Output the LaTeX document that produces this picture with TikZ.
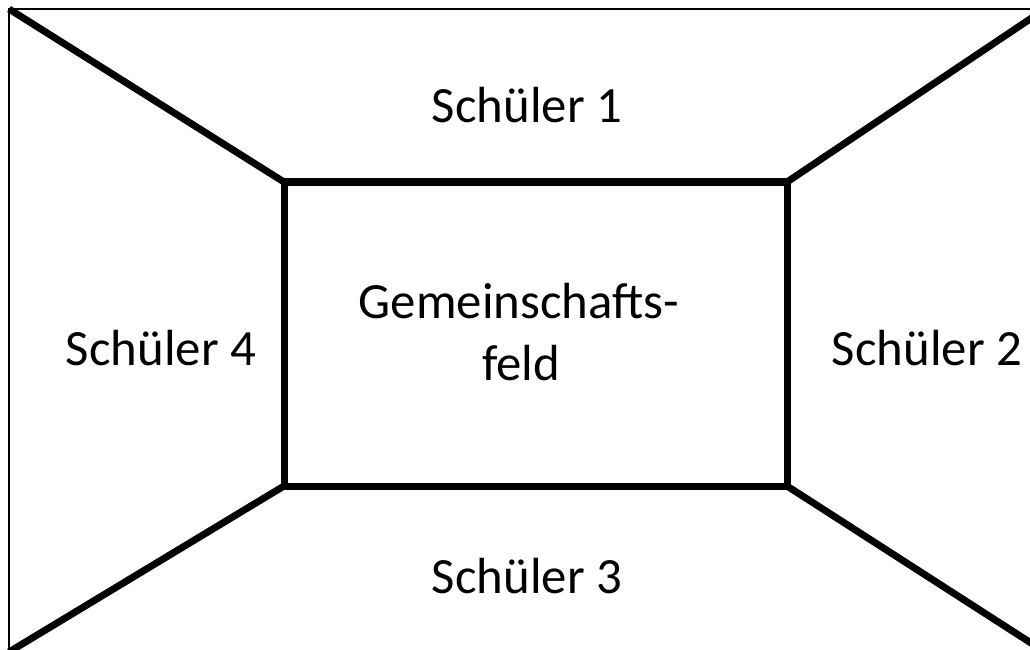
\documentclass[tikz,border=0pt]{standalone}
\usepackage{fontspec}
\setmainfont{Carlito}
\begin{document}
\begin{tikzpicture}[x=1bp,y=-1bp,
  thinline/.style={line width=2bp},
  thickline/.style={line width=7bp, line cap=butt},
  label/.style={font=\fontsize{51}{60}\selectfont, inner sep=0pt, anchor=base}]
\useasboundingbox (0,0) rectangle (1030,650);
\clip (0,0) rectangle (1030,650);
\fill[white] (0,0) rectangle (1030,650);
% corners
\coordinate (o1) at (9,9);
\coordinate (o2) at (1045,9);
\coordinate (o3) at (1045,652);
\coordinate (o4) at (9,652);
\coordinate (i1) at (284,182);
\coordinate (i2) at (787,182);
\coordinate (i3) at (787,486);
\coordinate (i4) at (284,486);
% outer frame
\draw[thinline] (o1) rectangle (o3);
% diagonals
\draw[thickline] (o1) -- (i1);
\draw[thickline] (o2) -- (i2);
\draw[thickline] (o3) -- (i3);
\draw[thickline] (o4) -- (i4);
% inner rectangle
\draw[thickline, line join=miter] (i1) -- (i2) -- (i3) -- (i4) -- cycle;
% labels
\node[label] (s1) at (527,123) {Schüler 1};
\node[label] (s2) at (927,365) {Schüler 2};
\node[label] (s3) at (527,593) {Schüler 3};
\node[label] (s4) at (161,365) {Schüler 4};
\node[label] (g1) at (519,318) {Gemeinschafts-};
\node[label] (g2) at (521,380) {feld};
\end{tikzpicture}
\end{document}
